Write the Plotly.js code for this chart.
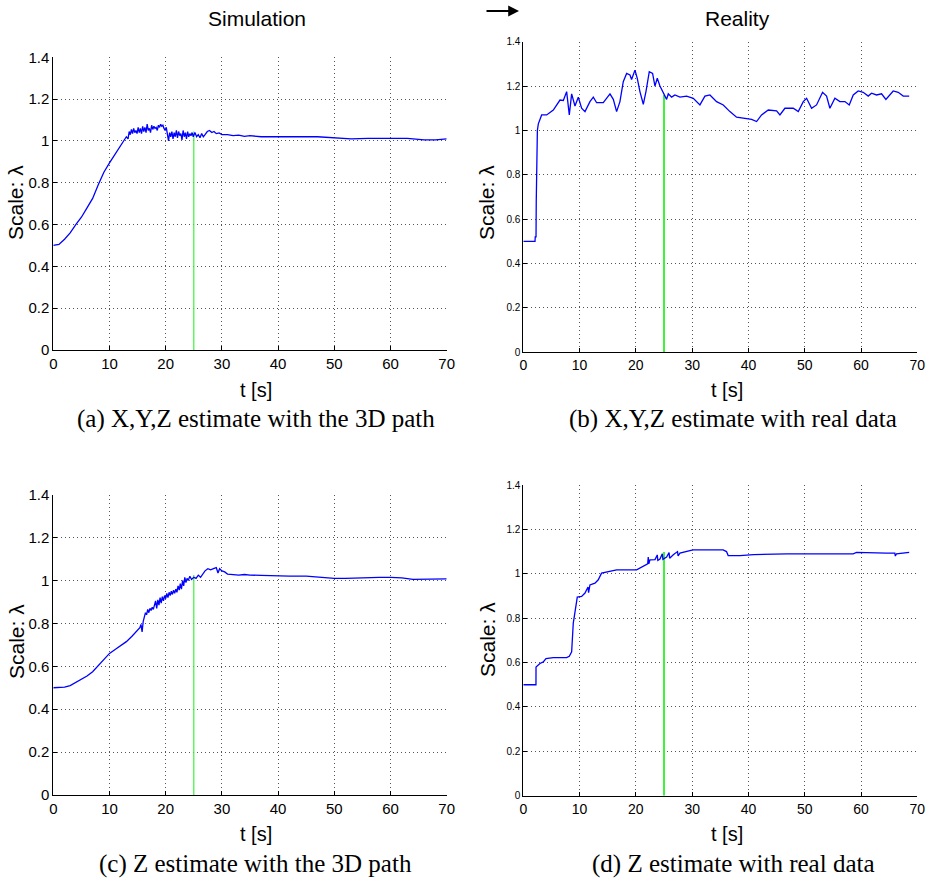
<!DOCTYPE html>
<html>
<head>
<meta charset="utf-8">
<script src="https://cdn.plot.ly/plotly-3.0.1.min.js"></script>
<style>html,body{margin:0;padding:0;background:#fff;}#plot{width:929px;height:882px;}</style>
</head>
<body>
<div id="plot"></div>
<script>
// ---- Panel (a): X,Y,Z estimate, simulation ----
const tA = [0,1,2,3,4,5,6,7,8,9,10,11,12,12.5,13,13.3,13.5,13.7,13.9,14.1,14.3,14.5,14.7,14.9,15.1,15.3,15.5,15.7,15.9,16.1,16.3,16.5,16.7,16.9,17.1,17.3,17.5,17.7,17.9,18.1,18.3,18.5,18.7,18.9,19.1,19.3,19.5,19.7,19.9,20.1,20.3,20.5,20.7,20.9,21.1,21.3,21.5,21.7,21.9,22.1,22.3,22.5,22.7,22.9,23.1,23.3,23.5,23.7,23.9,24.1,24.3,24.5,24.7,24.9,25.2,25.5,25.8,26.1,26.4,26.7,27.0,27.4,27.8,28.2,28.6,29,29.5,30,31,32,33,34,35,37,40,43,45,47,50,53,56,60,63,66,68,70];
const lamA = [0.50,0.505,0.53,0.56,0.60,0.635,0.68,0.725,0.79,0.85,0.895,0.935,0.975,1.0,1.02,1.01,1.045,1.03,1.055,1.035,1.06,1.04,1.05,1.035,1.065,1.04,1.06,1.035,1.07,1.045,1.065,1.04,1.08,1.05,1.06,1.04,1.075,1.055,1.07,1.06,1.065,1.05,1.075,1.065,1.08,1.07,1.075,1.06,1.05,1.065,1.03,1.0,1.04,1.02,1.045,1.01,1.04,1.02,1.05,1.015,1.045,1.025,1.035,1.005,1.05,1.02,1.04,1.01,1.045,1.02,1.035,1.025,1.04,1.02,1.04,1.02,1.03,1.015,1.035,1.02,1.03,1.045,1.05,1.04,1.045,1.035,1.038,1.03,1.03,1.025,1.028,1.022,1.025,1.02,1.02,1.022,1.02,1.02,1.015,1.01,1.012,1.01,1.012,1.005,1.005,1.01,1.01];

// ---- Panel (b): X,Y,Z estimate, real data ----
const tB = [0,2.08,2.12,2.26,2.3,2.5,2.67,2.9,3.26,4.15,5.33,6.52,7.11,7.70,8.17,8.59,9.18,9.77,10.36,10.96,11.84,12.44,13.03,14.21,15.40,15.99,16.58,17.17,17.76,18.36,18.95,19.24,19.84,20.25,20.72,21.32,21.79,22.38,22.97,23.39,23.80,24.28,24.87,25.46,25.76,26.35,26.94,27.83,29.01,30.20,31.38,32.27,33.16,34.34,35.53,36.71,37.89,39.67,40.56,41.45,42.33,43.52,45.00,45.59,46.48,47.96,48.85,49.74,50.33,51.22,52.10,53.17,53.88,54.47,55.36,56.25,57.14,57.91,58.62,59.50,60.39,61.28,61.87,62.76,63.65,64.42,65.13,65.72,66.61,67.50,68.56];
const lamB = [0.50,0.50,0.52,0.52,0.68,1.0,1.03,1.05,1.07,1.07,1.092,1.137,1.135,1.175,1.07,1.165,1.11,1.15,1.10,1.085,1.13,1.15,1.125,1.125,1.165,1.14,1.085,1.13,1.22,1.257,1.25,1.23,1.272,1.235,1.175,1.118,1.175,1.265,1.257,1.20,1.235,1.20,1.168,1.14,1.165,1.15,1.16,1.15,1.155,1.145,1.115,1.155,1.16,1.13,1.115,1.085,1.06,1.055,1.05,1.04,1.07,1.092,1.088,1.07,1.10,1.10,1.085,1.13,1.145,1.10,1.115,1.172,1.155,1.10,1.145,1.13,1.13,1.115,1.16,1.178,1.172,1.155,1.168,1.16,1.165,1.14,1.16,1.178,1.172,1.155,1.155];

// ---- Panel (c): Z estimate, simulation ----
const tC = [0,2,3,4,5,6,7,8,9,10,11,12,13,14,15,15.4,15.6,15.8,16.0,16.2,16.4,16.6,16.8,17.0,17.2,17.4,17.6,17.8,18.0,18.2,18.4,18.6,18.8,19.0,19.2,19.4,19.6,19.8,20.0,20.2,20.4,20.6,20.8,21.0,21.2,21.4,21.6,21.8,22.0,22.2,22.4,22.6,22.8,23.0,23.2,23.4,23.6,23.8,24.0,24.3,24.6,25.0,25.4,25.8,26.2,26.6,27.0,27.5,28.0,28.5,29.0,29.3,29.6,30.0,30.5,31,32,33,34,35,37,40,42,45,47,50,52,55,58,60,62,64,66,68,70];
const lamC = [0.50,0.503,0.51,0.525,0.54,0.555,0.575,0.605,0.635,0.66,0.678,0.695,0.715,0.74,0.77,0.78,0.795,0.76,0.81,0.83,0.85,0.84,0.865,0.85,0.87,0.86,0.875,0.865,0.88,0.905,0.87,0.91,0.885,0.92,0.895,0.925,0.905,0.93,0.915,0.94,0.92,0.945,0.93,0.95,0.935,0.955,0.94,0.96,0.945,0.975,0.955,0.985,0.96,1.0,0.975,1.015,0.99,1.01,1.0,1.02,1.005,1.015,1.01,1.025,1.015,1.03,1.045,1.055,1.05,1.055,1.06,1.035,1.055,1.045,1.04,1.03,1.028,1.025,1.028,1.025,1.024,1.02,1.02,1.02,1.015,1.01,1.01,1.014,1.015,1.015,1.012,1.005,1.005,1.007,1.008];

// ---- Panel (d): Z estimate, real data ----
const tD = [0,2.25,2.26,2.96,3.55,4.03,5.33,7.70,8.17,8.59,8.88,9.18,9.59,10.36,10.96,11.25,11.5,11.6,11.84,12.73,13.32,13.90,15.40,16.58,20.13,21.02,21.79,22.1,22.2,22.3,22.5,23.4,23.8,23.9,24.28,24.7,24.8,25.46,25.9,26.0,26.65,27.4,27.5,27.83,29.6,30.2,35.5,36.1,36.4,38.5,40.9,46.8,58.6,59.2,64.5,66.0,66.1,66.3,68.56];
const lamD = [0.50,0.50,0.58,0.596,0.603,0.618,0.622,0.622,0.628,0.648,0.778,0.838,0.895,0.898,0.913,0.928,0.94,0.915,0.95,0.958,0.973,1.003,1.01,1.018,1.018,1.03,1.04,1.045,1.075,1.045,1.063,1.064,1.085,1.06,1.066,1.09,1.065,1.075,1.095,1.07,1.086,1.1,1.08,1.093,1.104,1.108,1.108,1.10,1.082,1.082,1.086,1.09,1.09,1.096,1.093,1.093,1.08,1.09,1.096];

// green marker at t = 25 s (height = curve value there)
const tMark = 25;
const markTop = [1.045, 1.16, 1.026, 1.098];

const xTicks = [0,10,20,30,40,50,60,70];
const yTicks = [0,0.2,0.4,0.6,0.8,1,1.2,1.4];
const yTickText = ['0','0.2','0.4','0.6','0.8','1','1.2','1.4'];

const blue = '#0000ff', green = '#3df23d';
const sans = 'Liberation Sans, Arial, Helvetica, sans-serif';
const serif = 'Liberation Serif, Times New Roman, serif';

function line(x, y, xa, ya) {
  return {x: x, y: y, xaxis: xa, yaxis: ya, type: 'scatter', mode: 'lines',
          line: {color: blue, width: 1.3}, hoverinfo: 'skip', showlegend: false};
}
function mark(top, xa, ya, w) {
  return {x: [tMark, tMark], y: [0, top], xaxis: xa, yaxis: ya, type: 'scatter', mode: 'lines',
          line: {color: green, width: w}, hoverinfo: 'skip', showlegend: false};
}
const data = [
  mark(markTop[0], 'x', 'y', 1.2), line(tA, lamA, 'x', 'y'),
  mark(markTop[1], 'x2', 'y2', 2), line(tB, lamB, 'x2', 'y2'),
  mark(markTop[2], 'x3', 'y3', 1.2), line(tC, lamC, 'x3', 'y3'),
  mark(markTop[3], 'x4', 'y4', 2), line(tD, lamD, 'x4', 'y4')
];

function xax(dom, anchor, fs) {
  return {domain: dom, anchor: anchor, range: [0, 70], tickvals: xTicks, ticktext: xTicks.map(String),
          showgrid: true, gridcolor: '#555', griddash: '1px,3px', gridwidth: 1, zeroline: false,
          showline: true, linecolor: '#000', linewidth: 1, mirror: false,
          ticks: 'inside', ticklen: 4, tickcolor: '#000',
          tickfont: {family: sans, size: fs, color: '#000'}, fixedrange: true};
}
function yax(dom, anchor, fs) {
  return {domain: dom, anchor: anchor, range: [0, 1.4], tickvals: yTicks, ticktext: yTickText,
          showgrid: true, gridcolor: '#555', griddash: '1px,3px', gridwidth: 1, zeroline: false,
          showline: true, linecolor: '#000', linewidth: 1, mirror: false,
          ticks: 'inside', ticklen: 4, tickcolor: '#000',
          tickfont: {family: sans, size: fs, color: '#000'}, fixedrange: true};
}
const W = 929, H = 882;
const px = v => v / W, py = v => 1 - v / H;

const ann = [];
function txt(text, x, y, size, fam, angle) {
  ann.push({text: text, x: px(x), y: py(y), xref: 'paper', yref: 'paper', showarrow: false,
            xanchor: 'center', yanchor: 'middle', textangle: angle || 0,
            font: {family: fam, size: size, color: '#000'}});
}
txt('Simulation', 257, 18, 21, sans);
txt('Reality', 737, 18, 21, sans);
txt('Scale: λ', 16, 203, 21, sans, -90);
txt('Scale: λ', 487, 203, 21, sans, -90);
txt('Scale: λ', 16, 642, 21, sans, -90);
txt('Scale: λ', 487, 640, 21, sans, -90);
txt('t [s]', 256, 390, 20, sans);
txt('t [s]', 727, 390, 20, sans);
txt('t [s]', 256, 834, 20, sans);
txt('t [s]', 727, 834, 20, sans);
txt('(a) X,Y,Z estimate with the 3D path', 256, 419, 25, serif);
txt('(b) X,Y,Z estimate with real data', 733, 419, 25, serif);
txt('(c) Z estimate with the 3D path', 256, 864, 25, serif);
txt('(d) Z estimate with real data', 733, 864, 25, serif);
ann.push({text: '', x: px(519), y: py(11), ax: -34, ay: 0, xref: 'paper', yref: 'paper',
          showarrow: true, arrowhead: 2, arrowsize: 1.2, arrowwidth: 1.8, arrowcolor: '#000'});

const layout = {
  width: W, height: H, margin: {l: 0, r: 0, t: 0, b: 0},
  paper_bgcolor: '#fff', plot_bgcolor: '#fff', showlegend: false,
  xaxis:  xax([53.3 / W, 446.7 / W], 'y', 15),
  yaxis:  yax([1 - 350 / H, 1 - 57.3 / H], 'x', 15),
  xaxis2: xax([523.3 / W, 917.3 / W], 'y2', 14),
  yaxis2: yax([1 - 352.3 / H, 1 - 41.7 / H], 'x2', 10),
  xaxis3: xax([53.3 / W, 446.7 / W], 'y3', 15),
  yaxis3: yax([1 - 795 / H, 1 - 494.7 / H], 'x3', 15),
  xaxis4: xax([523.3 / W, 917.3 / W], 'y4', 14),
  yaxis4: yax([1 - 795.7 / H, 1 - 485 / H], 'x4', 10),
  annotations: ann
};
Plotly.newPlot('plot', data, layout, {displayModeBar: false, staticPlot: true});
</script>
</body>
</html>
